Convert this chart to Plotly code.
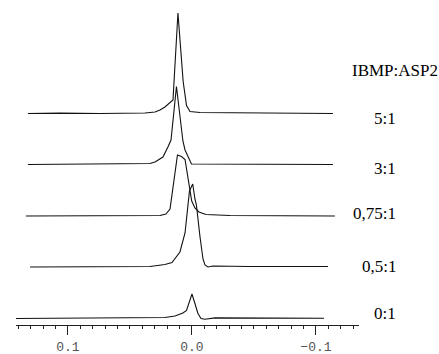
import plotly.graph_objects as go

# Titration series: stacked spectra, chemical shift (ppm) vs intensity (a.u.)
ratio_labels = ["5:1", "3:1", "0,75:1", "0,5:1", "0:1"]

shift_5_1 = [0.1323, 0.1065, 0.0742, 0.0379, 0.0298, 0.0258, 0.0218, 0.0185, 0.0153,
             0.0113, 0.0071, 0.0044, 0.0016, -0.0065, -0.0468, -0.1137]
int_5_1 = [0, 0.4, 0, 0.5, 1.5, 3.5, 6.5, 10, 13.5, 100.5, 32, 8, 2, 1, 0.5, 0]

shift_3_1 = [0.1323, 0.0742, 0.0339, 0.0298, 0.0234, 0.0194, 0.0169, 0.0125, 0.0073,
             0.0056, 0.0004, -0.1137]
int_3_1 = [0, 0.3, 1, 2.5, 7.5, 17.5, 24.5, 78, 23.5, 14.5, 0.5, 0]

shift_075_1 = [0.1339, 0.0742, 0.0258, 0.0210, 0.0177, 0.0117, 0.0085, 0.0056, 0.0030,
               0.0002, -0.0024, -0.0056, -0.0113, -0.0306, -0.1153]
int_075_1 = [0, 0.3, 0.5, 2, 7, 61, 59.5, 56.5, 36, 15, 8, 4, 1.5, 0.5, 0]

shift_05_1 = [0.1306, 0.0742, 0.0339, 0.0218, 0.0161, 0.0097, 0.0056, 0.0020, -0.0006,
              -0.0024, -0.0036, -0.0065, -0.0089, -0.0105, -0.0129, -0.0169, -0.0468, -0.1097]
int_05_1 = [0, 0, 0.5, 2.5, 4.5, 15, 34, 76, 83, 68, 62, 30, 8, 2, 0, 1, 0.5, 0.5]

shift_0_1 = [0.1419, 0.0742, 0.0339, 0.0218, 0.0137, 0.0073, 0.0044, 0.0024, 0.0000,
             -0.0024, -0.0048, -0.0073, -0.0105, -0.0185, -0.0548, -0.1065]
int_0_1 = [0, 0.3, 0.5, 1, 2.5, 5.5, 8, 16, 24.5, 15, 5, 0, -0.8, 0.6, 0.5, 0.3]

shifts = [shift_5_1, shift_3_1, shift_075_1, shift_05_1, shift_0_1]
intensities = [int_5_1, int_3_1, int_075_1, int_05_1, int_0_1]

# vertical stacking of the spectra and placement of their labels
trace_offsets = [211.5, 160.5, 109, 58, 6.5]
label_y = [207, 157, 112, 59, 12]

fig = go.Figure()
for xs, ys, off in zip(shifts, intensities, trace_offsets):
    fig.add_trace(go.Scatter(
        x=xs, y=[v + off for v in ys], mode="lines",
        line=dict(color="#111111", width=1.1, shape="linear"),
        showlegend=False, hoverinfo="skip",
    ))

serif = "Liberation Serif, Times New Roman, serif"
for lab, ly in zip(ratio_labels, label_y):
    fig.add_annotation(x=1.1137, xref="paper", y=ly, yref="y", text=lab,
                       showarrow=False, xanchor="right", yanchor="middle",
                       font=dict(family=serif, size=17, color="#000000"))
fig.add_annotation(x=0.975, xref="paper", y=255, yref="y", text="IBMP:ASP2",
                   showarrow=False, xanchor="left", yanchor="middle",
                   font=dict(family=serif, size=17, color="#000000"))

fig.update_layout(
    width=439, height=354,
    margin=dict(l=16, r=80, t=0, b=29),
    paper_bgcolor="white", plot_bgcolor="white",
    xaxis=dict(
        range=[0.1419, -0.1347], showgrid=False, zeroline=False,
        showline=True, linecolor="#222222", linewidth=1,
        ticks="outside", ticklen=9, tickwidth=1, tickcolor="#222222",
        tick0=0, dtick=0.1, tickformat=".1f",
        tickfont=dict(family="Liberation Mono, Courier New, monospace", size=13, color="#555555"),
        minor=dict(ticks="outside", ticklen=3, tickwidth=1, tickcolor="#222222", dtick=0.01, tick0=0),
    ),
    yaxis=dict(range=[0, 325], visible=False, showgrid=False, zeroline=False),
)

fig.write_html("out.html")
